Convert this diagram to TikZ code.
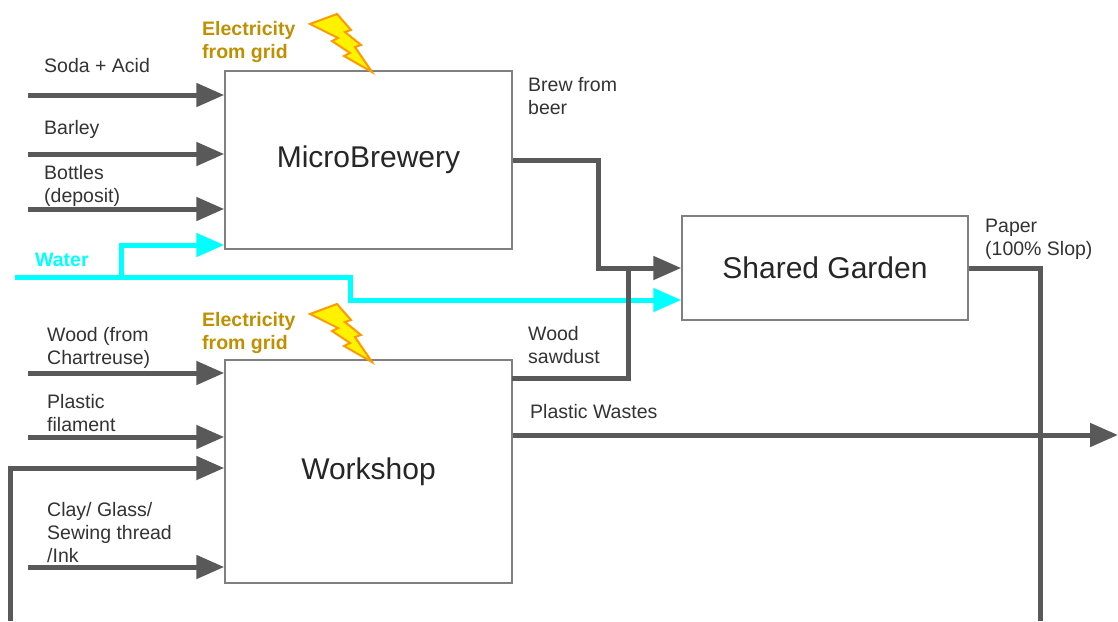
\documentclass[tikz,border=0pt]{standalone}
\usepackage{fontspec}
\setmainfont{Liberation Sans}
\usetikzlibrary{positioning,arrows.meta}
\definecolor{flowgray}{HTML}{595959}
\definecolor{watercyan}{HTML}{00FFFF}
\definecolor{elecgold}{HTML}{BF9000}
\definecolor{boltorange}{HTML}{FF9900}

\begin{document}
\begin{tikzpicture}[x=1pt, y=-1pt,
	box/.style={draw=gray, line width=1.5pt, inner sep=0pt,
	minimum width=287pt, text=black!85, font=\fontsize{30}{34}\selectfont},
	lbl/.style={anchor=north west, inner sep=0pt, align=left,
	text=black!80, font=\fontsize{19.5}{23}\selectfont},
	elec/.style={lbl, text=elecgold, font=\fontsize{19.5}{23}\selectfont\bfseries},
	flow/.style={draw=flowgray, line width=5pt,
	-{Triangle[length=28pt, width=23pt]}},
	wflow/.style={flow, draw=watercyan},
	bolt/.pic={\filldraw[fill=yellow, draw=boltorange, line width=2pt, line join=miter]
		(0,10) -- (27,0) -- (41,16) -- (35,18) -- (51,31) -- (45,33) -- (62,58)
		-- (34,42) -- (40,39) -- (22,27) -- (28,24) -- cycle;}
	]
	\useasboundingbox[fill=white] (0,0) rectangle (1118,621);
	
	% boxes
	\node[box, minimum height=178pt] (brew) at (368.5,160) {MicroBrewery};
	\node[box, minimum height=223pt] (work) at (368.5,471.5) {Workshop};
	\node[box, minimum width=286pt, minimum height=104pt] (garden) at (825,268) {Shared Garden};
	
	% electricity
	\node[elec] (elec1) at (202,21) {Electricity\\from grid};
	\node[elec] (elec2) at (202,312) {Electricity\\from grid};
	\pic at (310,14) {bolt};
	\pic at (310,304) {bolt};
	
	% inputs of the brewery
	\node[lbl] (soda) at (44,58) {Soda + Acid};
	\node[lbl] (barley) at (44,120) {Barley};
	\node[lbl] (bottles) at (44,165) {Bottles\\(deposit)};
	\coordinate (sodain) at (28,95);
	\coordinate (barleyin) at (28,154);
	\coordinate (bottlesin) at (28,209);
	\draw[flow] (sodain) -- (brew.west |- sodain);
	\draw[flow] (barleyin) -- (brew.west |- barleyin);
	\draw[flow] (bottlesin) -- (brew.west |- bottlesin);
	
	% water
	\node[lbl, text=watercyan, font=\fontsize{19.5}{23}\selectfont\bfseries] (water) at (35,253) {Water};
	\coordinate (waterin) at (15,277);
	\coordinate (wsplit) at (121,277);
	\coordinate (wup) at (121,245);
	\coordinate (wdrop) at (350,277);
	\coordinate (wlow) at (350,300);
	\draw[wflow] (wsplit) -- (wup) -- (brew.west |- wup);
	\draw[wflow] (waterin) -- (wdrop) -- (wlow) -- (garden.west |- wlow);
	
	% inputs of the workshop
	\node[lbl] (wood) at (47,327) {Wood (from\\Chartreuse)};
	\node[lbl] (plastic) at (47,394) {Plastic\\filament};
	\node[lbl] (clay) at (47,502) {Clay/ Glass/\\Sewing thread\\/Ink};
	\coordinate (woodin) at (28,373);
	\coordinate (plasticin) at (28,437);
	\coordinate (clayin) at (28,567);
	\coordinate (loopin) at (10,621);
	\coordinate (loopup) at (10,468);
	\draw[flow] (woodin) -- (work.west |- woodin);
	\draw[flow] (plasticin) -- (work.west |- plasticin);
	\draw[flow] (clayin) -- (work.west |- clayin);
	\draw[flow] (loopin) -- (loopup) -- (work.west |- loopup);
	
	% outputs
	\node[lbl] (brewlbl) at (528,77) {Brew from\\beer};
	\node[lbl] (sawlbl) at (528,326) {Wood\\sawdust};
	\node[lbl] (wastelbl) at (530,404) {Plastic Wastes};
	\node[lbl] (paperlbl) at (985,219) {Paper\\(100\% Slop)};
	\coordinate (brewbend) at (598,160);
	\coordinate (brewdown) at (598,268);
	\coordinate (sawout) at (512,378);
	\coordinate (sawbend) at (628,378);
	\coordinate (sawup) at (628,268);
	\coordinate (wasteout) at (1118,435);
	\coordinate (paperbend) at (1040,268);
	\coordinate (paperdown) at (1040,621);
	\draw[flow] (brew.east) -- (brewbend) -- (brewdown) -- (garden.west);
	\draw[flow, -] (sawout) -- (sawbend) -- (sawup);
	\draw[flow] (work.east |- wasteout) -- (wasteout);
	\draw[flow, -] (garden.east) -- (paperbend) -- (paperdown);
\end{tikzpicture}
\end{document}
